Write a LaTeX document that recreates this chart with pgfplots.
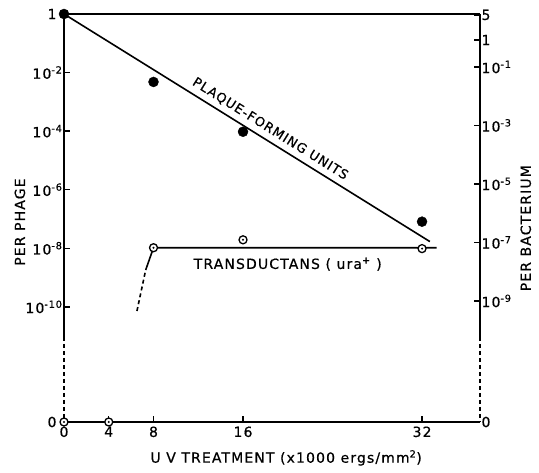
\documentclass[border=0pt]{standalone}
\usepackage{fontspec}
\setmainfont{DejaVu Sans}[LetterSpace=8, FakeBold=0.6]
\usepackage{pgfplots}
\pgfplotsset{compat=1.18}
\pgfdeclareplotmark{odot}{%
  \pgfpathcircle{\pgfpointorigin}{\pgfplotmarksize}%
  \pgfsetfillcolor{white}\pgfusepathqfillstroke
  \pgfpathcircle{\pgfpointorigin}{0.28\pgfplotmarksize}%
  \pgfsetfillcolor{black}\pgfusepathqfill}
\begin{document}
\begin{tikzpicture}[font=\fontsize{14}{16}\selectfont]
\begin{axis}[
  at={(64pt,50pt)}, anchor=south west,
  scale only axis, width=416pt, height=408pt,
  xmin=0, xmax=37.18, ymin=-13.93, ymax=0,
  clip=false,
  axis x line*=bottom, axis y line*=left,
  axis line style={draw=none},
  tick align=inside, major tick length=6pt,
  every tick/.style={black, line width=1.4pt},
  xtick={0,4,8,16,32}, xticklabels={0,4,8,16,32},
  ytick={0,-2,-4,-6,-8,-10,-13.93},
  yticklabels={1\rule{6pt}{0pt},10\textsuperscript{-2},10\textsuperscript{-4},10\textsuperscript{-6},10\textsuperscript{-8},10\textsuperscript{-10},0\rule{6pt}{0pt}},
  tick label style={font=\fontsize{14}{16}\selectfont},
  yticklabel style={xshift=2pt},
  xticklabel style={yshift=-1pt},
  every axis x label/.style={at={(rel axis cs:0.534,-0.088)}, anchor=center},
  every axis y label/.style={at={(rel axis cs:-0.106,0.49)}, rotate=90, anchor=center},
  xlabel={U V TREATMENT (x1000 ergs/mm\textsuperscript{2})},
  ylabel={PER PHAGE},
]
% frame lines
\draw[line width=1.5pt] (axis cs:0,0) -- (axis cs:37.18,0);
\draw[line width=1.5pt] (axis cs:0,-13.93) -- (axis cs:37.18,-13.93);
\draw[line width=1.5pt] (axis cs:0,0) -- (axis cs:0,-11.02);
\draw[line width=1.5pt, dash pattern=on 4pt off 3pt] (axis cs:0,-11.02) -- (axis cs:0,-13.93);
\draw[line width=1.5pt] (axis cs:37.18,0) -- (axis cs:37.18,-11.02);
\draw[line width=1.5pt, dash pattern=on 4pt off 3pt] (axis cs:37.18,-11.02) -- (axis cs:37.18,-13.93);
% plaque-forming units
\addplot[black, line width=1.6pt, no marks] coordinates {(0,0) (32.7,-7.77)};
\addplot[black, only marks, mark=*, mark size=5pt] coordinates {(0,0) (8,-2.32) (16,-4.02) (32,-7.09)};
% transductants
\addplot[black, line width=1.6pt, no marks] coordinates {(7.3,-8.74) (8,-7.98) (33.3,-7.98)};
\addplot[black, line width=1.6pt, no marks, dash pattern=on 4pt off 3pt] coordinates {(6.52,-10.14) (7.3,-8.74)};
\addplot[black, only marks, mark=odot, mark size=4pt, mark options={line width=1.3pt}] coordinates {(0,-13.93) (4,-13.93) (8,-7.98) (16,-7.71) (32,-8.01)};
\node[rotate=-32, anchor=south, inner sep=5.5pt, font=\fontsize{13}{15}\selectfont] at (axis cs:17.9,-4.25) {PLAQUE-FORMING UNITS};
\node[font=\fontsize{14}{16}\selectfont] at (axis cs:20.0,-8.54) {TRANSDUCTANS ( ura\textsuperscript{+} )};
\end{axis}
\begin{axis}[
  at={(64pt,50pt)}, anchor=south west,
  scale only axis, width=416pt, height=408pt,
  xmin=0, xmax=37.18, ymin=-13.14, ymax=0.812,
  axis x line=none, axis y line*=right,
  axis line style={draw=none},
  tick align=inside, major tick length=6pt,
  every tick/.style={black, line width=1.4pt},
  ytick={0.78,-0.077,-1,-3,-5,-7,-9,-13.14},
  yticklabels={5,1,10\textsuperscript{-1},10\textsuperscript{-3},10\textsuperscript{-5},10\textsuperscript{-7},10\textsuperscript{-9},0},
  tick label style={font=\fontsize{14}{16}\selectfont},
  yticklabel style={xshift=-2pt},
  every axis y label/.style={at={(rel axis cs:1.11,0.475)}, rotate=90, anchor=center},
  ylabel={PER BACTERIUM},
]
\end{axis}
\pgfresetboundingbox
\path[use as bounding box] (0,0) rectangle (539pt,472pt);
\end{tikzpicture}
\end{document}
